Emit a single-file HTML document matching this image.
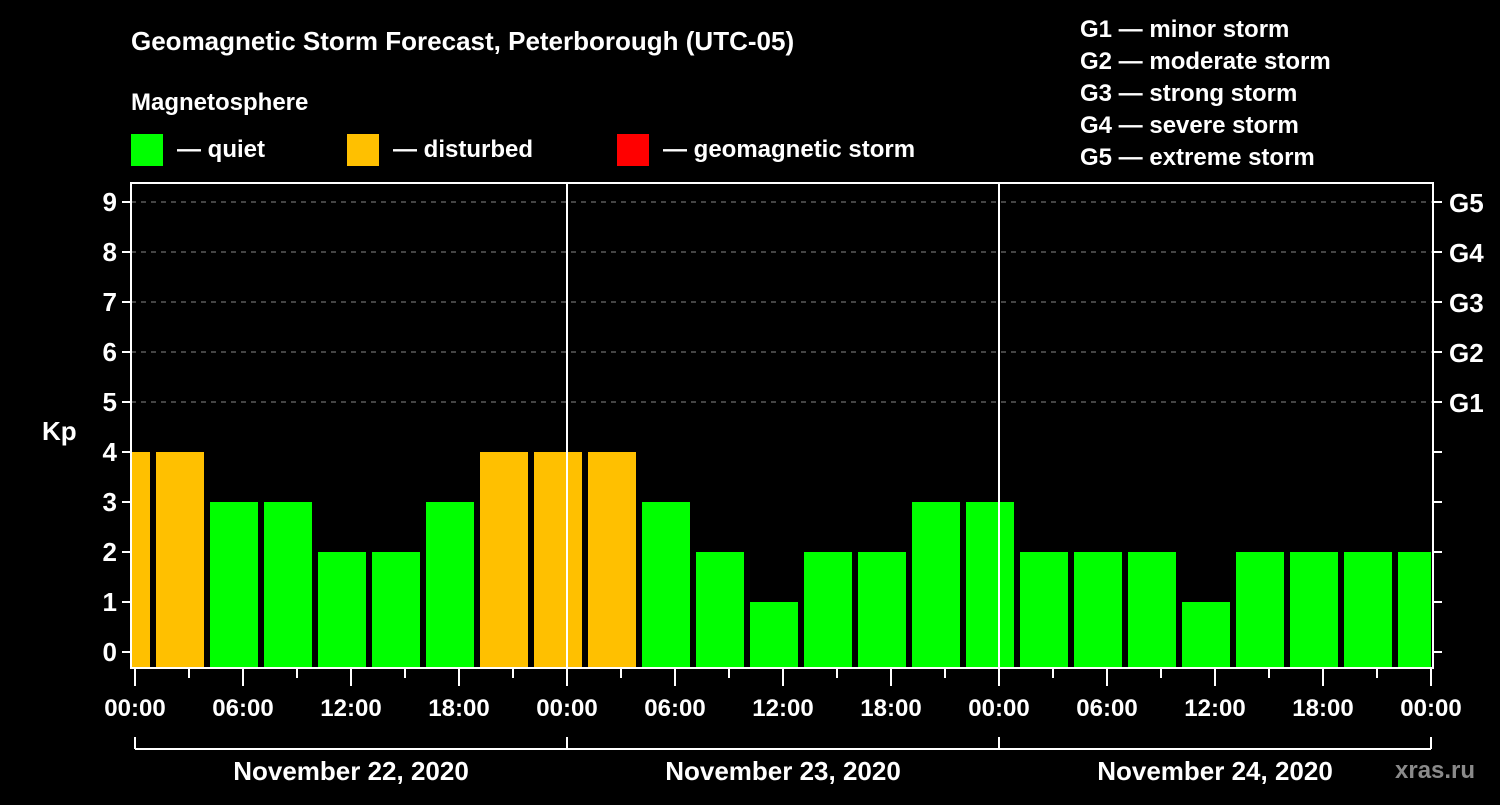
<!DOCTYPE html>
<html><head><meta charset="utf-8"><style>
body{margin:0;background:#000;}
svg text{font-family:"Liberation Sans",Arial,sans-serif;font-weight:bold;fill:#fff;}
</style></head><body>
<svg id="c" width="1500" height="800" xmlns="http://www.w3.org/2000/svg">
<rect width="1500" height="800" fill="#000"/>
<text x="131" y="50" font-size="26">Geomagnetic Storm Forecast, Peterborough (UTC-05)</text>
<text x="131" y="110" font-size="24">Magnetosphere</text>
<g><rect x="131" y="134" width="32" height="32" fill="#00ff00"/><text x="177" y="157" font-size="24">— quiet</text></g>
<g><rect x="347" y="134" width="32" height="32" fill="#ffc000"/><text x="393" y="157" font-size="24">— disturbed</text></g>
<g><rect x="617" y="134" width="32" height="32" fill="#ff0000"/><text x="663" y="157" font-size="24">— geomagnetic storm</text></g>
<g font-size="24">
<text x="1080" y="37">G1 — minor storm</text>
<text x="1080" y="69">G2 — moderate storm</text>
<text x="1080" y="101">G3 — strong storm</text>
<text x="1080" y="133">G4 — severe storm</text>
<text x="1080" y="165">G5 — extreme storm</text>
</g>
<text x="42" y="440" font-size="26">Kp</text>
<text x="1395" y="778" font-size="24" fill="#888" style="fill:#8a8a8a">xras.ru</text>
<g id="plot"></g>
</svg>
<script>
const startHours=[-2,1,4,7,10,13,16,19,22,25,28,31,34,37,40,43,46,49,52,55,58,61,64,67,70];
const kpValues=[4,4,3,3,2,2,3,4,4,4,3,2,1,2,2,3,3,2,2,2,1,2,2,2,2];
const yTicks=[0,1,2,3,4,5,6,7,8,9];
const gLabels=["G1","G2","G3","G4","G5"];
const xTickLabels=["00:00","06:00","12:00","18:00","00:00","06:00","12:00","18:00","00:00","06:00","12:00","18:00","00:00"];
const dayLabels=["November 22, 2020","November 23, 2020","November 24, 2020"];
const NS="http://www.w3.org/2000/svg";
const X0=135,PXH=18,LEFT=131,RIGHT=1433,TOP=183,BOT=668;
const x=h=>X0+h*PXH, y=v=>652-v*50;
const g=document.getElementById('plot');
function mk(t,a,p){const e=document.createElementNS(NS,t);for(const k in a)e.setAttribute(k,a[k]);(p||g).appendChild(e);return e;}
// grid
yTicks.forEach(v=>{if(v>=5){const l=mk('line',{x1:LEFT,x2:RIGHT,y1:y(v),y2:y(v),stroke:'#888','stroke-dasharray':'5,5','stroke-width':1});

}});
// bars
const clip=mk('clipPath',{id:'cp'});mk('rect',{x:LEFT+1,y:TOP,width:RIGHT-LEFT-3,height:BOT-TOP},clip);
startHours.forEach((s,i)=>{const v=kpValues[i];const col=v>=5?'#ff0000':(v>=4?'#ffc000':'#00ff00');
const b=mk('rect',{x:x(s)+3,y:y(v),width:3*PXH-6,height:BOT-y(v),fill:col,'clip-path':'url(#cp)'});

});
// frame
const f=mk('path',{d:`M${LEFT},${BOT}V${TOP}H${RIGHT}V${BOT}Z`,fill:'none',stroke:'#fff','stroke-width':2});


[24,48].forEach(h=>{const l=mk('line',{x1:x(h),x2:x(h),y1:TOP,y2:BOT,stroke:'#fff','stroke-width':2});

});
// y ticks
yTicks.forEach(v=>{mk('line',{x1:LEFT-9,x2:LEFT,y1:y(v),y2:y(v),stroke:'#fff','stroke-width':2});
mk('line',{x1:RIGHT,x2:RIGHT+9,y1:y(v),y2:y(v),stroke:'#fff','stroke-width':2});
const t=mk('text',{x:LEFT-14,y:y(v)+9,'font-size':26,'text-anchor':'end'});t.textContent=v;

});
gLabels.forEach((s,i)=>{const t=mk('text',{x:1449,y:y(5+i)+10,'font-size':26});t.textContent=s;

});
// x ticks
for(let h=0;h<=72;h+=3){mk('line',{x1:x(h),x2:x(h),y1:BOT,y2:BOT+(h%6==0?18:10),stroke:'#fff','stroke-width':2});}
xTickLabels.forEach((s,i)=>{const t=mk('text',{x:x(i*6),y:716,'font-size':24,'text-anchor':'middle'});t.textContent=s;

});
// date bracket
mk('line',{x1:x(0),x2:x(72),y1:749,y2:749,stroke:'#fff','stroke-width':2});
[0,24,48,72].forEach(h=>mk('line',{x1:x(h),x2:x(h),y1:737,y2:749,stroke:'#fff','stroke-width':2}));
dayLabels.forEach((s,i)=>{const t=mk('text',{x:x(i*24+12),y:780,'font-size':26,'text-anchor':'middle'});t.textContent=s;

});
</script>
</body></html>
